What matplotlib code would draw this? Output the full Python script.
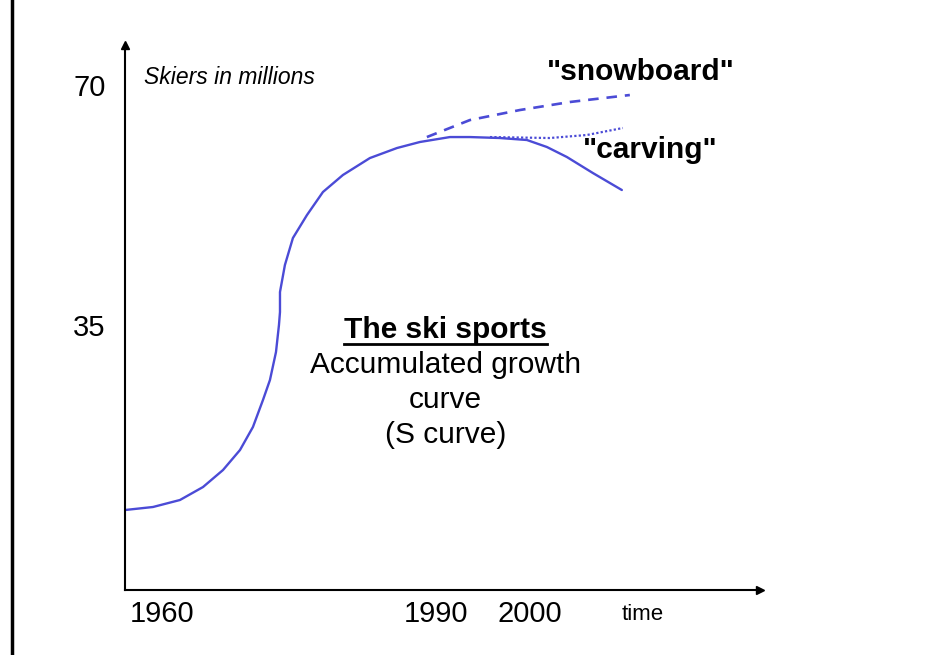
import matplotlib
matplotlib.use("Agg")
import matplotlib.pyplot as plt
from matplotlib.lines import Line2D
from matplotlib.transforms import ScaledTranslation

plt.rcParams['font.family'] = ['Liberation Sans', 'DejaVu Sans']

# ---- data (years, millions of skiers) ----
ski_years = [1956.50, 1959.51, 1962.41, 1964.89, 1967.04, 1968.87, 1970.26, 1971.34,
             1972.09, 1972.74, 1973.06, 1973.17, 1973.17, 1973.70, 1974.56, 1976.07,
             1977.79, 1979.94, 1982.84, 1985.75, 1988.22, 1991.45, 1993.60, 1996.82,
             1999.73, 2001.88, 2004.03, 2006.82, 2009.94]
ski_values = [8.01, 8.45, 9.47, 11.36, 13.84, 16.76, 20.11, 24.05,
              26.96, 31.04, 34.98, 36.87, 39.79, 43.73, 47.66, 51.01,
              54.37, 56.85, 59.32, 60.78, 61.66, 62.38, 62.38, 62.24,
              61.95, 60.93, 59.47, 57.14, 54.66]
snow_years = [1988.97, 1993.60, 1998.97, 2004.35, 2010.80]
snow_values = [62.38, 64.86, 66.32, 67.49, 68.51]
carv_years = [1995.75, 2002.20, 2006.18, 2010.05]
carv_values = [62.38, 62.24, 62.68, 63.70]
y_ticks = [35, 70]
y_ticklabels = ["35", "70"]
x_ticks = [1960, 1990, 2000]
x_ticklabels = ["1960", "1990", "2000"]

W, H = 930, 655
fig = plt.figure(figsize=(W / 100, H / 100), dpi=100)
# axes: left 125px, right 760px, bottom 590px, top 45px
ax = fig.add_axes([125 / W, (H - 590) / H, (760 - 125) / W, (590 - 45) / H])
ax.set_xlim(1956.5, 2024.8)
ax.set_ylim(-3.65, 75.8)

blue = '#4b4bd6'
ax.plot(ski_years, ski_values, color=blue, lw=1.7, solid_capstyle='round', solid_joinstyle='round')
ax.plot(snow_years, snow_values, color=blue, lw=1.9, ls=(0, (4, 3)))
ax.plot(carv_years, carv_values, color=blue, lw=1.6, ls=(0, (1, 1)))

for s in ['top', 'right']:
    ax.spines[s].set_visible(False)
for s in ['left', 'bottom']:
    ax.spines[s].set_linewidth(1.5)
    ax.spines[s].set_color('black')
ax.plot(1, 0, ">k", ms=6, transform=ax.transAxes, clip_on=False)
ax.plot(0, 1, "^k", ms=6, transform=ax.transAxes, clip_on=False)

ax.set_yticks(y_ticks)
ax.set_yticklabels(y_ticklabels, fontsize=21)
ax.set_xticks(x_ticks)
ax.set_xticklabels(x_ticklabels, fontsize=21)
ax.tick_params(axis='y', length=0, pad=14)
ax.tick_params(axis='x', length=0, pad=7)
lbl = ax.get_xticklabels()[0]
lbl.set_transform(lbl.get_transform() + ScaledTranslation(5 / 100, 0, fig.dpi_scale_trans))

ax.text(0.03, 0.94, "Skiers in millions", transform=ax.transAxes, fontsize=16.5,
        style='italic', ha='left', va='center')
ax.text(2012.2, -7.2, "time", fontsize=16, ha='center', va='center')
ax.text(2012.0, 71.8, '"snowboard"', fontsize=21.5, fontweight='bold', ha='center', va='center')
ax.text(2013.0, 60.5, '"carving"', fontsize=21.5, fontweight='bold', ha='center', va='center')

t = ax.text(1991.0, 34.2, "The ski sports", fontsize=21.5, fontweight='bold', ha='center', va='center')
ax.text(1991.0, 24.06, "Accumulated growth\ncurve\n(S curve)", fontsize=21.5, ha='center',
        va='center', linespacing=1.33)

fig.canvas.draw()
bb = t.get_window_extent(renderer=fig.canvas.get_renderer())
uy = bb.y0
fig.add_artist(Line2D([bb.x0 / W, bb.x1 / W], [uy / H, uy / H], color='black', lw=2,
                      transform=fig.transFigure))

# left border line
fig.add_artist(Line2D([12 / W, 12 / W], [0, 1], color='black', lw=2.5, transform=fig.transFigure))

fig.savefig("out.png", dpi=100)
